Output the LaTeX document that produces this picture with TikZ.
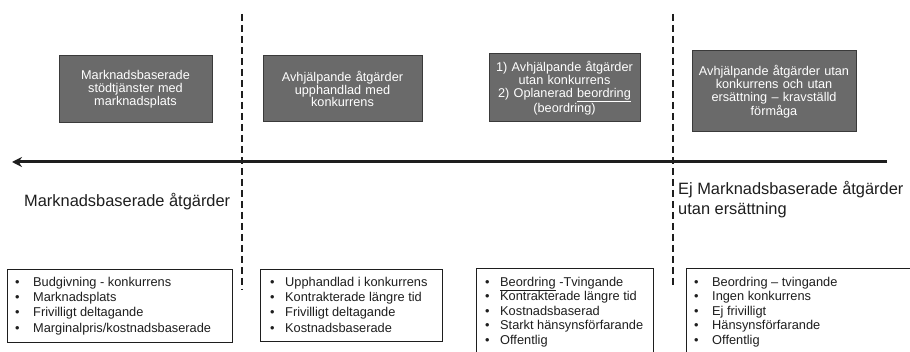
\documentclass[tikz,border=0pt]{standalone}
\usepackage{fontspec}
\setmainfont{Liberation Sans}
\usetikzlibrary{arrows.meta}
\definecolor{boxfill}{HTML}{6A6A6A}
\definecolor{boxedge}{HTML}{3A3A3A}
\definecolor{ink}{HTML}{1E1E1E}
\newcommand{\bulA}{\makebox[18pt][l]{•}}
\newcommand{\bulB}{\makebox[15pt][l]{•}}
\begin{document}
\begin{tikzpicture}[x=1pt,y=-1pt,
  topbox/.style={draw=boxedge, line width=1pt, fill=boxfill, text=white, align=center,
    font=\fontsize{12.7}{12.8}\selectfont, inner sep=2pt},
  listbox/.style={draw=ink, line width=1.3pt, anchor=north west, inner sep=0pt},
  listtext/.style={anchor=north west, align=left, inner sep=0pt, text=ink},
  divider/.style={line width=2.7pt, dash pattern=on 7pt off 4pt, draw=ink},
  axis/.style={line width=3pt, draw=ink, -{Stealth[length=10pt,width=10pt]}},
  biglabel/.style={font=\fontsize{16.4}{20}\selectfont, align=left, anchor=west, inner sep=0pt, text=ink}]
\useasboundingbox (0,0) rectangle (910,352);
\fill[white] (0,0) rectangle (910,352);
\begin{scope}
\clip (0,0) rectangle (910,352);

% dividers
\coordinate (d1t) at (242,14); \coordinate (d1b) at (242,290);
\coordinate (d2t) at (673,14); \coordinate (d2b) at (673,288);
\draw[divider] (d1t) -- (d1b);
\draw[divider] (d2t) -- (d2b);

% axis arrow
\coordinate (ar) at (887,162); \coordinate (al) at (12,162);
\draw[axis] (ar) -- (al);

% top boxes
\node[topbox, minimum width=153pt, minimum height=67pt, text width=144pt] (t1) at (135.5,89.5)
  {Marknadsbaserade\\stödtjänster med\\marknadsplats};
\node[topbox, minimum width=159pt, minimum height=66pt, text width=150pt] (t2) at (342.5,89)
  {Avhjälpande åtgärder\\upphandlad med\\konkurrens};
\node[topbox, minimum width=151pt, minimum height=68pt, text width=144pt] (t3) at (564.5,88)
  {1) Avhjälpande åtgärder\\utan konkurrens\\2) Oplanerad \underline{beordring}\\(beordring)};
\node[topbox, minimum width=164pt, minimum height=81pt, text width=156pt] (t4) at (774,91.5)
  {Avhjälpande åtgärder utan\\konkurrens och utan\\ersättning – kravställd\\förmåga};

% big labels
\node[biglabel] (l1) at (24,202) {Marknadsbaserade åtgärder};
\node[biglabel, anchor=north west] (l2) at (678,181) {Ej Marknadsbaserade åtgärder\\utan ersättning};

% bottom boxes
\node[listbox, minimum width=225pt, minimum height=73pt] (bA) at (7,269) {};
\node[listbox, minimum width=182pt, minimum height=72pt] (bB) at (260,269) {};
\node[listbox, minimum width=177pt, minimum height=100pt] (bC) at (476,268) {};
\node[listbox, minimum width=240pt, minimum height=100pt] (bD) at (686,268) {};

\node[listtext, font=\fontsize{12.8}{15.2}\selectfont] (xA) at (15,277)
  {\bulA Budgivning - konkurrens\\\bulA Marknadsplats\\\bulA Frivilligt deltagande\\\bulA Marginalpris/kostnadsbaserade};
\node[listtext, font=\fontsize{12.8}{15.2}\selectfont] (xB) at (270,277)
  {\bulB Upphandlad i konkurrens\\\bulB Kontrakterade längre tid\\\bulB Frivilligt deltagande\\\bulB Kostnadsbaserade};
\node[listtext, font=\fontsize{12.8}{14.4}\selectfont] (xC) at (485,277)
  {\bulB \underline{Beordring} -Tvingande\\\bulB Kontrakterade längre tid\\\bulB Kostnadsbaserad\\\bulB Starkt hänsynsförfarande\\\bulB Offentlig};
\node[listtext, font=\fontsize{12.8}{14.4}\selectfont] (xD) at (694,277)
  {\bulA Beordring – tvingande\\\bulA Ingen konkurrens\\\bulA Ej frivilligt\\\bulA Hänsynsförfarande\\\bulA Offentlig};
\end{scope}
\end{tikzpicture}
\end{document}
